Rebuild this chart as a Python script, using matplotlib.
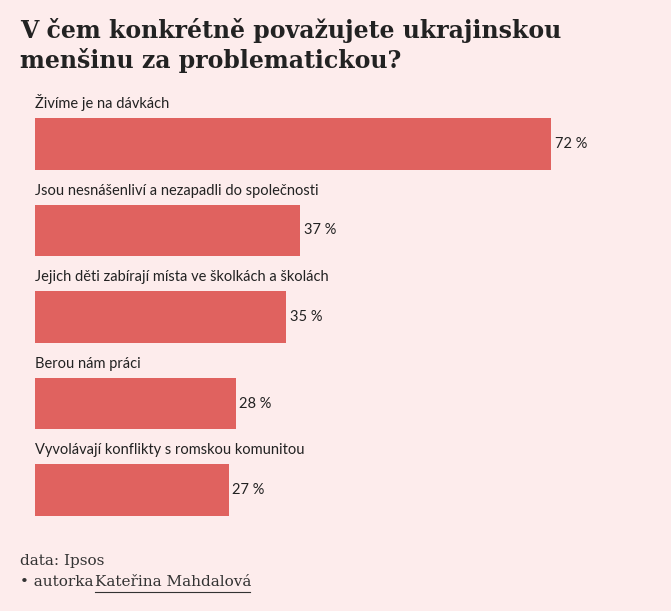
import matplotlib
matplotlib.use("Agg")
import matplotlib.pyplot as plt

categories = ["Živíme je na dávkách",
              "Jsou nesnášenliví a nezapadli do společnosti",
              "Jejich děti zabírají místa ve školkách a školách",
              "Berou nám práci",
              "Vyvolávají konflikty s romskou komunitou"]
values = [72, 37, 35, 28, 27]

W, H = 671, 611
bg = "#fdecec"
fig = plt.figure(figsize=(W/100, H/100), dpi=100, facecolor=bg)
ax = fig.add_axes([35/W, (H-516)/H, 616/W, 398/H])
ax.set_facecolor(bg)
ax.barh(range(len(values)), values, height=0.6, color="#e0625f")
ax.set_xlim(0, 616/7.17)
ax.set_ylim(4.3, -0.3)
ax.axis("off")
for i, (c, v) in enumerate(zip(categories, values)):
    ax.text(0, i-0.38, c, va="bottom", ha="left", fontsize=10.5, family="Lato", color="#222")
    ax.text(v+0.5, i, f"{v} %", va="center", ha="left", fontsize=10.5, family="Lato", color="#222")

fig.text(20/W, 1-18/H, "V čem konkrétně považujete ukrajinskou\nmenšinu za problematickou?",
         va="top", ha="left", fontsize=17, fontweight="bold", family="DejaVu Serif",
         color="#222", linespacing=1.25)
fig.text(20/W, 1-561/H, "data: Ipsos", va="center", fontsize=11, family="DejaVu Serif", color="#333")
t = fig.text(20/W, 1-582/H, "• autorka ", va="center", fontsize=11, family="DejaVu Serif", color="#333")
fig.text(95/W, 1-582/H, "Kateřina Mahdalová", va="center", fontsize=11, family="DejaVu Serif", color="#333")
fig.add_artist(plt.Line2D([95/W, 250/W], [1-592/H, 1-592/H], color="#333", lw=0.8))
fig.savefig("out.png", dpi=100, facecolor=bg)
